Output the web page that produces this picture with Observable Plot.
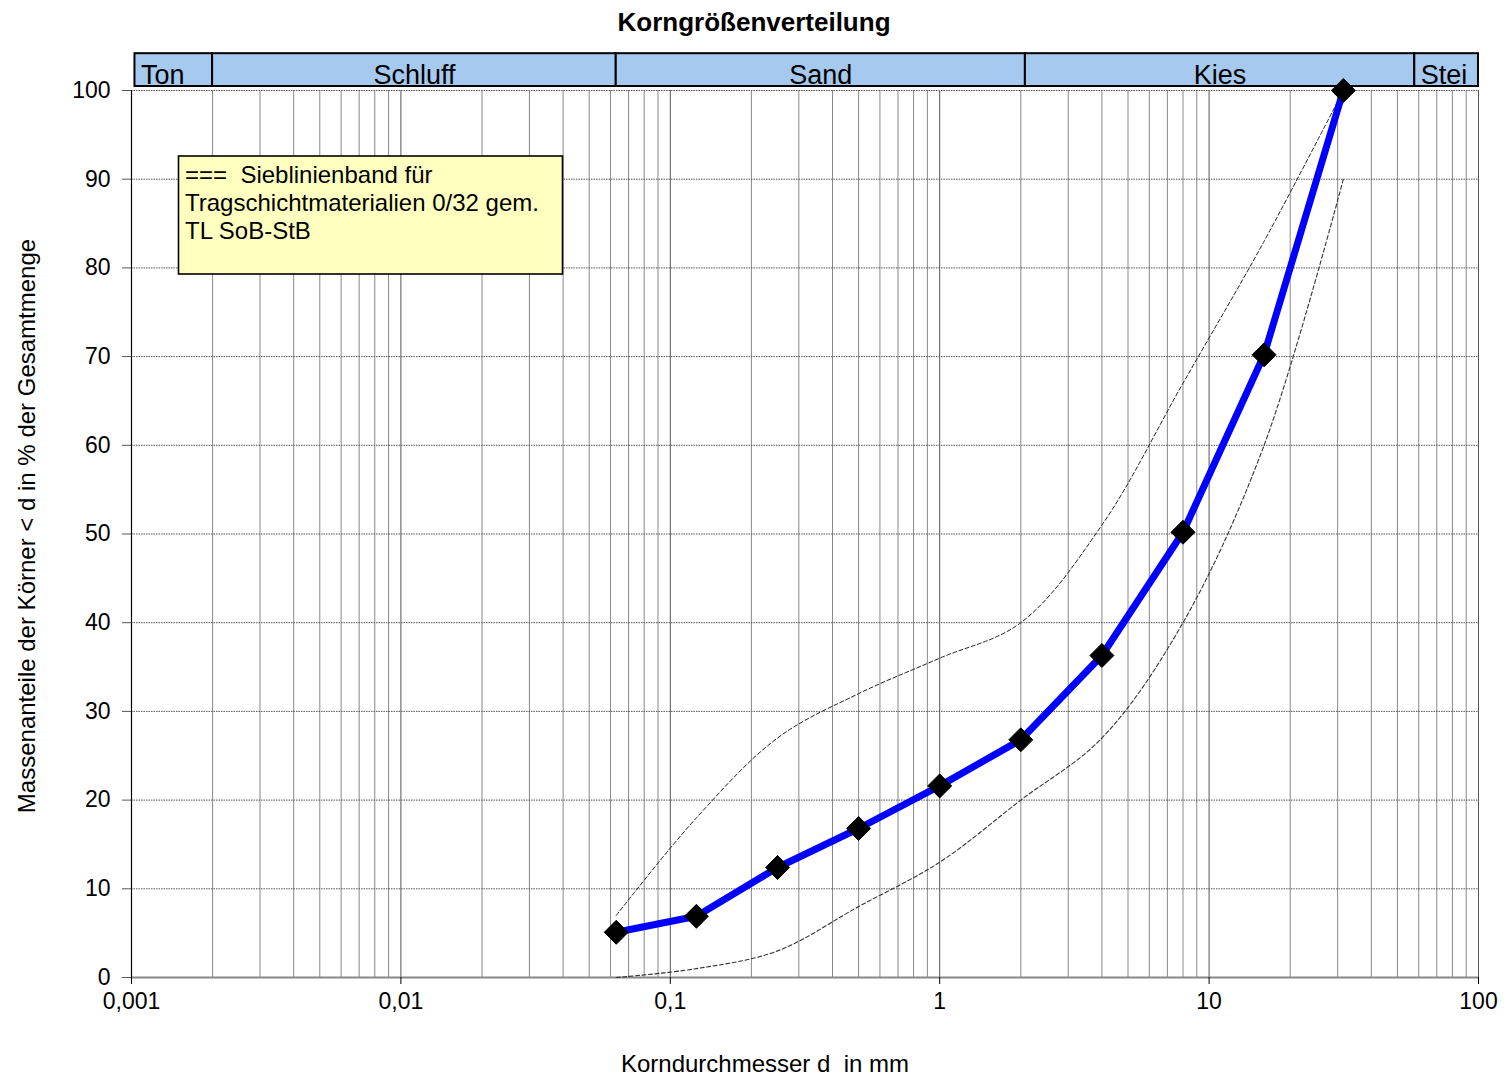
<!DOCTYPE html>
<html><head><meta charset="utf-8">
<script src="https://cdn.jsdelivr.net/npm/d3@7"></script>
<script src="https://cdn.jsdelivr.net/npm/@observablehq/plot@0.6"></script>
<style>body{margin:0;background:#fff;} svg{display:block}</style>
</head><body><div id="chart"></div>
<script>
// ---- data ----
const sieve      = [0.063, 0.125, 0.25, 0.5, 1, 2, 4, 8, 16, 31.5];
const passing    = [5.1, 6.9, 12.4, 16.8, 21.6, 26.8, 36.3, 50.2, 70.2, 100];
const upperBand  = [7, 18, 27, 32, 36, 40, 51, 67, 83, 100];
const lowerBand  = [0, 1, 3, 8, 13, 20, 27, 40, 60, 90];
const classNames  = ["Ton", "Schluff", "Sand", "Kies", "Stei"];
const classBounds = [0.00103, 0.002, 0.063, 2.08, 58, 100];
const xTicks      = [0.001, 0.01, 0.1, 1, 10, 100];
const xTickLabels = ["0,001", "0,01", "0,1", "1", "10", "100"];
const yTicks      = [0, 10, 20, 30, 40, 50, 60, 70, 80, 90, 100];
const titleText  = "Korngrößenverteilung";
const xLabel     = "Korndurchmesser d  in mm";
const yLabel     = "Massenanteile der Körner < d in % der Gesamtmenge";
const legendLines = ["===  Sieblinienband für", "Tragschichtmaterialien 0/32 gem.", "TL SoB-StB"];

// ---- derived tables ----
const main  = sieve.map((d, i) => ({d, p: passing[i]}));
const upper = sieve.map((d, i) => ({d, p: upperBand[i]}));
const lower = sieve.map((d, i) => ({d, p: lowerBand[i]}));
const classes = classNames.map((name, i) => ({name, x1: classBounds[i], x2: classBounds[i + 1], i}));
const minor = [];
for (let k = 0; k < xTicks.length - 1; k++) for (let m = 2; m <= 9; m++) minor.push(xTicks[k] * m);

const font = "'Liberation Sans', Arial, Helvetica, sans-serif";

const chart = Plot.plot({
  width: 1505, height: 1080,
  marginLeft: 131, marginRight: 27, marginTop: 90, marginBottom: 103,
  x: {type: "log", domain: [0.001, 100], axis: null},
  y: {domain: [0, 100], axis: null},
  style: {fontFamily: font, background: "white", color: "black"},
  marks: [
    Plot.ruleX(minor, {stroke: "#888", strokeWidth: 1}),
    Plot.ruleX(xTicks, {stroke: "#555", strokeWidth: 1}),
    Plot.ruleY(yTicks.slice(1), {stroke: "#555", strokeWidth: 1, strokeDasharray: "1.5,1"}),
    Plot.ruleY([0], {stroke: "#888", strokeWidth: 2}),
    Plot.ruleX([0.001], {stroke: "black", strokeWidth: 1.2}),
    Plot.axisX({ticks: xTicks, tickFormat: d => xTickLabels[xTicks.indexOf(d)], tickSize: 7, tickPadding: 8, fontSize: 23, label: null, stroke: "black"}),
    Plot.axisY({ticks: yTicks, tickSize: 9, tickPadding: 12, fontSize: 23, label: null, stroke: "#555"}),
    // soil classes band
    Plot.rect(classes, {x1: "x1", x2: "x2", y1: 100.45, y2: 104.15, fill: "#a6c9ef", stroke: "black", strokeWidth: 2}),
    Plot.text(classes.filter(c => c.i > 0 && c.i < classes.length - 1), {x: c => Math.sqrt(c.x1 * c.x2), y: 100.45, text: "name", dy: -3, lineAnchor: "bottom", fontSize: 27, fill: "black"}),
    Plot.text(classes.filter(c => c.i === 0 || c.i === classes.length - 1), {x: "x1", y: 100.45, text: "name", dx: 6, dy: -3, textAnchor: "start", lineAnchor: "bottom", fontSize: 27, fill: "black"}),
    // grading band
    Plot.line(upper, {x: "d", y: "p", curve: "catmull-rom", stroke: "#222", strokeWidth: 1, strokeDasharray: "4,2.5"}),
    Plot.line(lower, {x: "d", y: "p", curve: "catmull-rom", stroke: "#333", strokeWidth: 1.1, strokeDasharray: "4,2.5"}),
    // sieve curve
    Plot.line(main, {x: "d", y: "p", stroke: "#0000ff", strokeWidth: 7, strokeLinejoin: "round"}),
    Plot.dot(main, {x: "d", y: "p", symbol: "diamond2", r: 10.8, fill: "black", stroke: "black", strokeWidth: 1}),
    // titles
    Plot.text([titleText], {frameAnchor: "top", dx: -51, dy: -68, lineAnchor: "middle", textAnchor: "middle", fontSize: 26, fontWeight: "bold", fill: "black"}),
    Plot.text([xLabel], {frameAnchor: "bottom", dx: -40, dy: 87, lineAnchor: "middle", textAnchor: "middle", fontSize: 24, fill: "black"}),
    Plot.text([yLabel], {frameAnchor: "left", dx: -104, dy: -8, rotate: -90, lineAnchor: "middle", textAnchor: "middle", fontSize: 24, fill: "black"})
  ]
});

// legend box (annotation)
const svg = d3.select(chart);
const g = svg.append("g").attr("text-anchor", "start");
g.append("rect").attr("x", 178.5).attr("y", 156).attr("width", 384).attr("height", 118)
  .attr("fill", "#ffffc0").attr("stroke", "black").attr("stroke-width", 1.6);
legendLines.forEach((t, i) => {
  g.append("text").attr("x", 185).attr("y", 183 + i * 28).attr("font-size", 24)
   .attr("text-anchor", "start").attr("font-family", font).attr("fill", "black").text(t);
});

document.getElementById("chart").append(chart);
</script>
</body></html>
